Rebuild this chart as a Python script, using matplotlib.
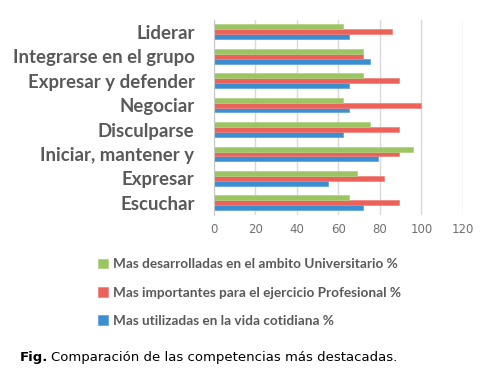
import matplotlib.pyplot as plt
import numpy as np

categorias = ['Escuchar', 'Expresar', 'Iniciar, mantener y', 'Disculparse',
              'Negociar', 'Expresar y defender', 'Integrarse en el grupo', 'Liderar']
cotidiana = [72, 55, 79, 62, 65, 65, 75, 65]
profesional = [89, 82, 89, 89, 100, 89, 72, 86]
universitario = [65, 69, 96, 75, 62, 72, 72, 62]
series_nombres = ['Mas utilizadas en la vida cotidiana %',
                  'Mas importantes para el ejercicio Profesional %',
                  'Mas desarrolladas en el ambito Universitario %']
ticks_x = [0, 20, 40, 60, 80, 100, 120]

gris = '#595959'
fig = plt.figure(figsize=(4.93, 3.84), dpi=100)
ax = fig.add_axes([0.434, 0.44, 0.505, 0.509])

y = np.arange(len(categorias))
h = 0.2
b1 = ax.barh(y - h, cotidiana, height=h, color='#3b8fd1', edgecolor='#5aa2db', linewidth=0.5)
b2 = ax.barh(y, profesional, height=h, color='#ec625b', edgecolor='#f08079', linewidth=0.5)
b3 = ax.barh(y + h, universitario, height=h, color='#9bc463', edgecolor='#aed07e', linewidth=0.5)

ax.set_xlim(0, 120)
ax.set_ylim(-0.5, 7.5)
ax.set_xticks(ticks_x)
ax.set_yticks(y)
ax.set_yticklabels(categorias, fontfamily='Lato', fontweight='bold', fontsize=13.4, color=gris)
ax.tick_params(axis='x', labelsize=8.5, colors=gris, length=0, pad=6)
ax.tick_params(axis='y', length=0, pad=14)
for lbl in ax.get_xticklabels():
    lbl.set_color('#707070')
ax.grid(axis='x', color='#d9d9d9', linewidth=1)
ax.set_axisbelow(True)
for s in ['top', 'right', 'bottom']:
    ax.spines[s].set_visible(False)
ax.spines['left'].set_color('#c8c8c8')

leg = fig.legend([b3, b2, b1], series_nombres[::-1], loc='upper left',
                 bbox_to_anchor=(0.185, 0.345), frameon=False,
                 prop={'family': 'Lato', 'weight': 'bold', 'size': 9.8},
                 labelspacing=1.2, handlelength=0.7, handleheight=0.7,
                 handletextpad=0.4, borderpad=0)
for t in leg.get_texts():
    t.set_color(gris)

fig.text(0.04, 0.07, 'Fig.', fontsize=9.5, fontweight='bold', family='DejaVu Sans', va='center')
fig.text(0.104, 0.07, 'Comparación de las competencias más destacadas.', fontsize=9.5,
         family='DejaVu Sans', va='center')

fig.savefig('out.png', dpi=100)
